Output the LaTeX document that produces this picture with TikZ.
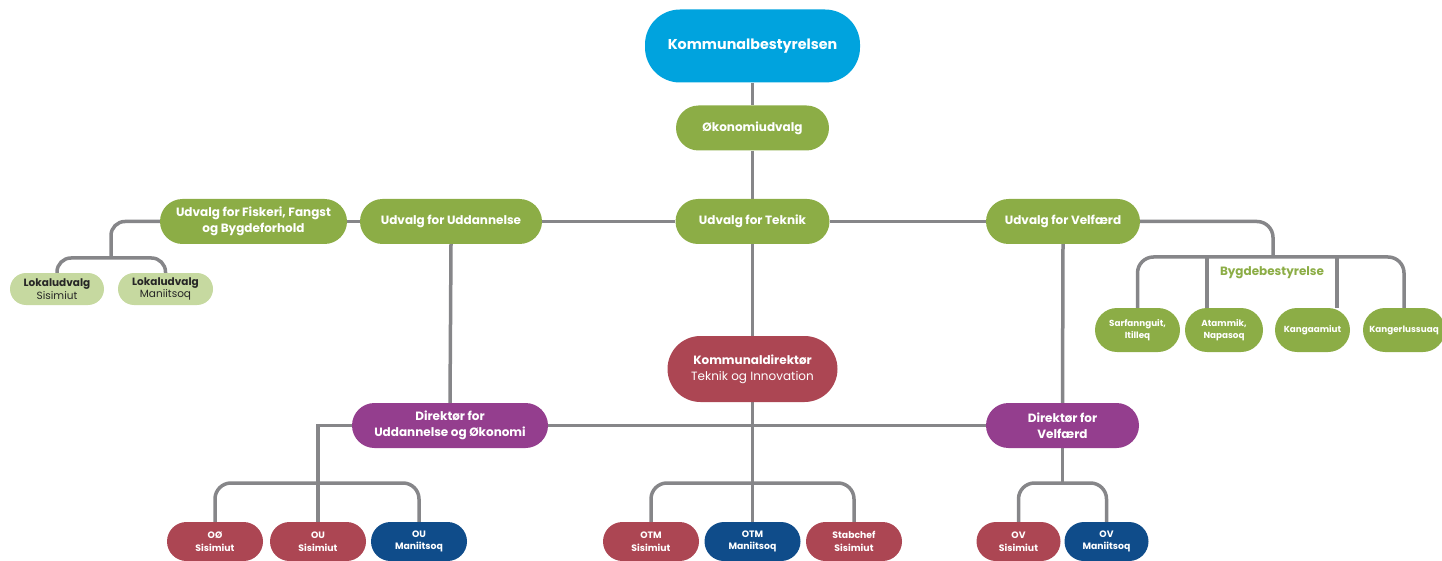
\documentclass[tikz,border=0pt]{standalone}
\usepackage{fontspec}
\setmainfont{Poppins}
\usetikzlibrary{backgrounds}
\definecolor{kcyan}{HTML}{00A3DE}
\definecolor{kgreen}{HTML}{8CAD46}
\definecolor{klight}{HTML}{C6D9A0}
\definecolor{kred}{HTML}{AC4653}
\definecolor{kblue}{HTML}{0F4C8A}
\definecolor{kpurple}{HTML}{943E8E}
\definecolor{kgray}{HTML}{868689}
\begin{document}
\begin{tikzpicture}[x=1pt,y=-1pt,
  pill/.style={rectangle, rounded corners=#1, inner sep=0pt, align=center, text=white},
  mid/.style={pill=22.5, minimum height=45, font=\bfseries\fontsize{12}{16}\selectfont},
  small/.style={pill=19.5, minimum height=39, minimum width=96, font=\bfseries\fontsize{9.3}{12.5}\selectfont},
  bygd/.style={pill=22, minimum height=44, fill=kgreen, font=\bfseries\fontsize{8.8}{12}\selectfont},
  lokal/.style={pill=16, minimum height=32, fill=klight, text=black!85, font=\fontsize{10.5}{12.5}\selectfont},
  conn/.style={draw=kgray, line width=3.5pt},
  rc/.style={rounded corners=16pt}]
\useasboundingbox (0,0) rectangle (1442,561);

% top
\node[pill=35, fill=kcyan, minimum width=215, minimum height=73, font=\bfseries\fontsize{14.3}{18}\selectfont] (kb) at (752.5,46) {Kommunalbestyrelsen};
\node[mid, fill=kgreen, minimum width=153] (oek) at (752.5,128) {Økonomiudvalg};

% committees
\node[mid, fill=kgreen, minimum width=187] (fisk) at (253.5,221.5) {Udvalg for Fiskeri, Fangst\\og Bygdeforhold};
\node[mid, fill=kgreen, minimum width=182] (udd) at (451,221.5) {Udvalg for Uddannelse};
\node[mid, fill=kgreen, minimum width=154] (tek) at (752.5,221.5) {Udvalg for Teknik};
\node[mid, fill=kgreen, minimum width=154] (vel) at (1063,221.5) {Udvalg for Velfærd};

% lokaludvalg
\node[lokal, minimum width=94] (l1) at (57,289) {\textbf{Lokaludvalg}\\Sisimiut};
\node[lokal, minimum width=95] (l2) at (165.5,289) {\textbf{Lokaludvalg}\\Maniitsoq};

% bygdebestyrelse
\node[font=\bfseries\fontsize{12}{14}\selectfont, text=kgreen, inner sep=0pt] (bl) at (1272,273) {Bygdebestyrelse};
\node[bygd, minimum width=85] (b1) at (1137.5,330) {Sarfannguit,\\Itilleq};
\node[bygd, minimum width=78] (b2) at (1224,330) {Atammik,\\Napasoq};
\node[bygd, minimum width=75] (b3) at (1312.5,330) {Kangaamiut};
\node[bygd, minimum width=82] (b4) at (1404,330) {Kangerlussuaq};

% directors
\node[pill=33, fill=kred, minimum width=170, minimum height=66, font=\fontsize{12}{16}\selectfont] (kd) at (752.5,369) {\textbf{Kommunaldirektør}\\Teknik og Innovation};
\node[mid, fill=kpurple, minimum width=196] (du) at (450,425.5) {Direktør for\\Uddannelse og Økonomi};
\node[mid, fill=kpurple, minimum width=153] (dv) at (1062.5,425.5) {Direktør for\\Velfærd};

% bottom row
\node[small, fill=kred] (u1) at (215,541.5) {OØ\\Sisimiut};
\node[small, fill=kred] (u2) at (318,541.5) {OU\\Sisimiut};
\node[small, fill=kblue] (u3) at (419,541.5) {OU\\Maniitsoq};
\node[small, fill=kred] (t1) at (651,541.5) {OTM\\Sisimiut};
\node[small, fill=kblue] (t2) at (752.5,541.5) {OTM\\Maniitsoq};
\node[small, fill=kred] (t3) at (854,541.5) {Stabchef\\Sisimiut};
\node[small, fill=kred, minimum width=84] (v1) at (1018.5,541.5) {OV\\Sisimiut};
\node[small, fill=kblue, minimum width=84] (v2) at (1106.5,541.5) {OV\\Maniitsoq};

% junction coordinates
\coordinate (fb) at (111,258);
\coordinate (bb) at (1273,257);
\coordinate (b2d) at (1207,308);
\coordinate (b3d) at (1337,308);
\coordinate (dub) at (318,483);
\coordinate (kdb) at (752.5,483);
\coordinate (dvb) at (1062.5,483);

\begin{scope}[on background layer]
\draw[conn] (kb.south) -- (oek.north);
\draw[conn] (oek.south) -- (tek.north);
\draw[conn] (fisk.east) -- (udd.west);
\draw[conn] (udd.east) -- (tek.west);
\draw[conn] (tek.east) -- (vel.west);
\draw[conn] (tek.south) -- (kd.north);
\draw[conn] (udd.south) -- (du.north);
\draw[conn] (vel.south) -- (dv.north);
\draw[conn] (du.east) -- (dv.west);
% fiskeri branch
\draw[conn, rounded corners=14pt] (fisk.west) -| (fb);
\draw[conn, rounded corners=14pt] (l1.north) |- (fb) -| (l2.north);
% bygde branch
\draw[conn, rc] (vel.east) -| (bb);
\draw[conn, rc] (b1.north) |- (bb) -| (b4.north);
\draw[conn] (b2d) -- (b2d |- bb);
\draw[conn] (b3d) -- (b3d |- bb);
% uddannelse directorate
\draw[conn] (dub) |- (du.west);
\draw[conn, rc] (u1.north) |- (dub) -| (u3.north);
\draw[conn] (dub) -- (u2.north);
% kommunaldirektør
\draw[conn] (kd.south) -- (t2.north);
\draw[conn, rc] (t1.north) |- (kdb) -| (t3.north);
% velfærd directorate
\draw[conn] (dv.south) -- (dvb);
\draw[conn, rc] (v1.north) |- (dvb) -| (v2.north);
\end{scope}
\end{tikzpicture}
\end{document}
